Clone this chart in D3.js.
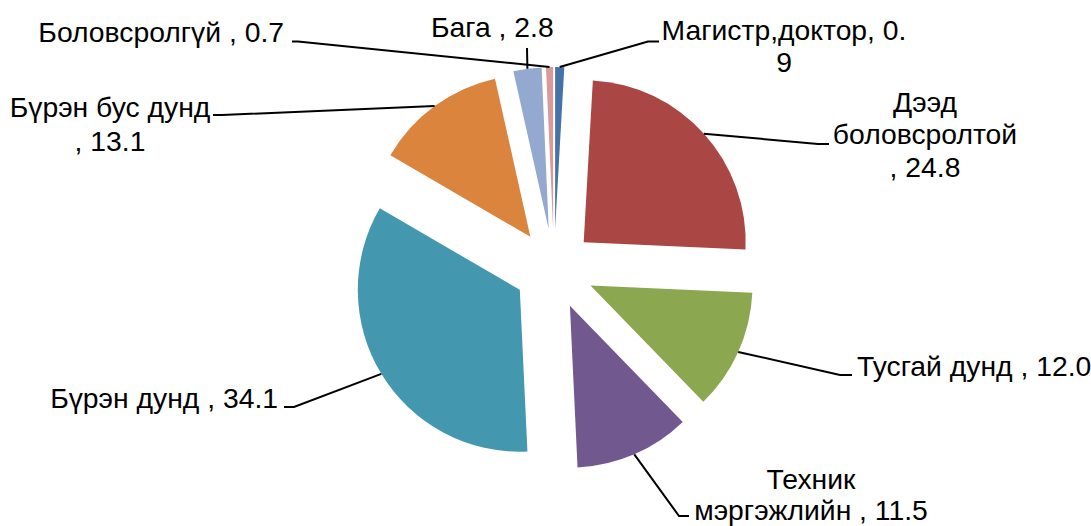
<!DOCTYPE html>
<html>
<head>
<meta charset="utf-8">
<script src="https://cdn.jsdelivr.net/npm/d3@7"></script>
<style>
  body { margin: 0; background: #fff; }
  text { font-family: "Liberation Sans", Arial, sans-serif; fill: #000; }
</style>
</head>
<body>
<script>
// data, clockwise from 12 o'clock
var categories = ["Магистр,доктор", "Дээд боловсролтой", "Тусгай дунд", "Техник мэргэжлийн",
                  "Бүрэн дунд", "Бүрэн бус дунд", "Бага", "Боловсролгүй"];
var values = [0.9, 24.8, 12.0, 11.5, 34.1, 13.1, 2.8, 0.7];
var colors = ["#4572A7", "#AA4644", "#8BA750", "#71588F", "#4398AF", "#DB843D", "#93A9CF", "#D99A99"];
// label text, wrapped the way the original wraps it
var labelLines = [
    ["Магистр,доктор, 0.", "9"],
    ["Дээд", "боловсролтой", ", 24.8"],
    ["Тусгай дунд , 12.0"],
    ["Техник", "мэргэжлийн , 11.5"],
    ["Бүрэн дунд , 34.1"],
    ["Бүрэн бус дунд", ", 13.1"],
    ["Бага , 2.8"],
    ["Боловсролгүй , 0.7"]
];

//Width and height
var w = 1091;
var h = 526;
var cx = 554, cy = 269;
var radius = 162;
var explode = 40;   // distance each slice is pulled out
var fontSize = 28.3;

// where the labels sit (x, first baseline, anchor, line step) and the leader elbow/end
var labelLayout = [
    {x: 784, y: 39.5,  anchor: "middle", step: 32.5, elbow: [648, 41.5], end: [659, 41.5]},
    {x: 925, y: 111.5, anchor: "middle", step: 32.5, elbow: [818, 144],  end: [829, 144]},
    {x: 857, y: 376,   anchor: "start",  step: 32,   elbow: [840, 375],  end: [852, 375]},
    {x: 811, y: 489,   anchor: "middle", step: 30.5, elbow: [679, 516],  end: [689, 516]},
    {x: 278, y: 407.5, anchor: "end",    step: 32,   elbow: [294, 407],  end: [284, 407]},
    {x: 110, y: 116.5, anchor: "middle", step: 34,   elbow: [222, 115],  end: [213, 115]},
    {x: 431, y: 36.5,  anchor: "start",  step: 32,   elbow: [527, 48],   end: [527, 48]},
    {x: 284, y: 41.5,  anchor: "end",    step: 32,   elbow: [298, 41.5], end: [292, 41.5]}
];

var svg = d3.select("body")
            .append("svg")
            .attr("width", w)
            .attr("height", h);

var pie = d3.pie().sort(null).value(function(d) { return d; });
var arcs = pie(values);

var arc = d3.arc().innerRadius(0).outerRadius(radius);

// offset of a slice along its bisector
function shift(d) {
    var a = (d.startAngle + d.endAngle) / 2;
    return [Math.sin(a) * explode, -Math.cos(a) * explode];
}

var g = svg.append("g").attr("transform", "translate(" + cx + "," + cy + ")");

g.selectAll("path.slice")
 .data(arcs)
 .enter()
 .append("path")
 .attr("class", "slice")
 .attr("d", arc)
 .attr("transform", function(d) {
     var s = shift(d);
     return "translate(" + s[0] + "," + s[1] + ")";
 })
 .attr("fill", function(d, i) { return colors[i]; });

// leader lines start on the outer edge, at the middle of the slice
var line = d3.line();
svg.selectAll("path.leader")
   .data(arcs)
   .enter()
   .append("path")
   .attr("class", "leader")
   .attr("d", function(d, i) {
       var a = (d.startAngle + d.endAngle) / 2;
       var s = shift(d);
       var p0 = [cx + s[0] + Math.sin(a) * radius, cy + s[1] - Math.cos(a) * radius];
       var L = labelLayout[i];
       return line([p0, L.elbow, L.end]);
   })
   .attr("fill", "none")
   .attr("stroke", "#000")
   .attr("stroke-width", 2);

var labels = svg.selectAll("text.label")
    .data(labelLines)
    .enter()
    .append("text")
    .attr("class", "label")
    .attr("font-size", fontSize + "px")
    .attr("text-anchor", function(d, i) { return labelLayout[i].anchor; })
    .attr("transform", function(d, i) {
        return "translate(" + labelLayout[i].x + "," + labelLayout[i].y + ")";
    });

labels.selectAll("tspan")
      .data(function(d, i) {
          return d.map(function(t) { return {t: t, step: labelLayout[i].step}; });
      })
      .enter()
      .append("tspan")
      .attr("x", 0)
      .attr("y", function(d, j) { return j * d.step; })
      .text(function(d) { return d.t; });
</script>
</body>
</html>
